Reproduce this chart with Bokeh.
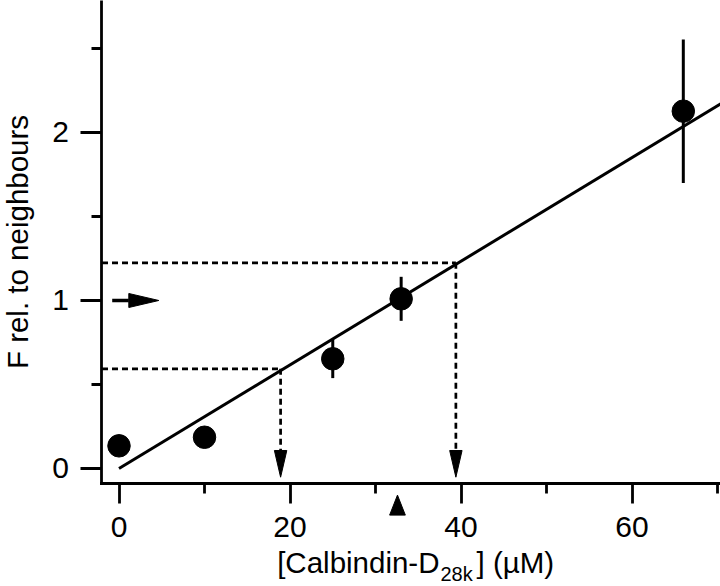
from bokeh.plotting import figure
from bokeh.models import FixedTicker, Range1d, Label
from bokeh.embed import file_html
from bokeh.resources import INLINE

# ---------------- data ----------------
conc = [0, 10, 25, 33, 66]                  # [Calbindin-D28k] (uM)
f_rel = [0.135, 0.186, 0.653, 1.01, 2.127]  # F rel. to neighbours
f_err = [0.03, 0.03, 0.115, 0.131, 0.427]

fit_x = [0, 71]
fit_y = [0.0, 2.19]

guide_conc = [18.9, 39.4]     # read-off concentrations (dashed arrows)
guide_f = [0.593, 1.224]      # corresponding F values on the fit

ref_f = [1.0]                 # horizontal arrow marking F = 1
ref_x = [-0.795, 4.655]       # arrow start / tip (uM)
mark_conc = [32.57]           # arrowhead under the x axis

x_ticks = [0, 20, 40, 60]
x_minor = [10, 30, 50, 70]
y_ticks = [0, 1, 2]
y_minor = [0.5, 1.5, 2.5]

# ---------------- geometry ----------------
W, H = 720, 586
X0, X1 = -13.86, 70.35
Y0, Y1 = -0.7024, 2.7857
PX = W / (X1 - X0)            # pixels per uM
PY = H / (Y1 - Y0)            # pixels per F unit
AX_X = -1.99                  # where the y axis stands (uM)
AX_Y = -0.090                 # where the x axis stands (F)

FONT = "Liberation Sans"

p = figure(width=W, height=H, output_backend="svg", toolbar_location=None,
           x_range=Range1d(X0, X1), y_range=Range1d(Y0, Y1),
           min_border=0, min_border_left=0, min_border_bottom=0,
           min_border_top=0, min_border_right=0)
p.outline_line_color = None
p.grid.visible = False
p.background_fill_color = "white"
p.border_fill_color = "white"

# axes
for ax in (p.xaxis[0], p.yaxis[0]):
    ax.axis_line_width = 2.8
    ax.axis_line_color = "black"
    ax.axis_line_cap = "square"
    ax.major_tick_in = 0
    ax.minor_tick_in = 0
    ax.major_tick_line_width = 2.8
    ax.minor_tick_line_width = 2.8
    ax.major_tick_line_color = "black"
    ax.minor_tick_line_color = "black"
    ax.minor_tick_out = 10
    ax.major_label_text_font = FONT
    ax.major_label_text_font_size = "30px"
    ax.major_label_text_color = "black"
    ax.axis_label_text_font = FONT
    ax.axis_label_text_font_size = "29.5px"
    ax.axis_label_text_font_style = "normal"
    ax.axis_label_text_color = "black"

p.xaxis.ticker = FixedTicker(ticks=x_ticks, minor_ticks=x_minor)
p.yaxis.ticker = FixedTicker(ticks=y_ticks, minor_ticks=y_minor)
p.xaxis.fixed_location = AX_Y
p.yaxis.fixed_location = AX_X
p.xaxis.bounds = (AX_X, X1)
p.yaxis.bounds = (AX_Y, Y1)
p.xaxis.major_tick_out = 20
p.yaxis.major_tick_out = 21
p.xaxis.major_label_standoff = 13
p.yaxis.major_label_standoff = 12
p.yaxis.axis_label = "F rel. to neighbours"
p.yaxis.axis_label_standoff = 15

# fit line
p.line(fit_x, fit_y, line_color="black", line_width=3)

# dashed read-off guides with downward arrowheads
DOWN_TIP = -0.0518
DOWN_LEN = 26.7 / PY
DOWN_HW = 6.2 / PX
gx, gy = [], []
for c, f in zip(guide_conc, guide_f):
    gx.append([AX_X, c]); gy.append([f, f])
    gx.append([c, c]); gy.append([f, DOWN_TIP + DOWN_LEN])
p.multi_line(gx, gy, line_color="black", line_width=2.7, line_dash="6 4")
p.patches([[c - DOWN_HW, c, c + DOWN_HW] for c in guide_conc],
          [[DOWN_TIP + DOWN_LEN, DOWN_TIP, DOWN_TIP + DOWN_LEN] for _ in guide_conc],
          fill_color="black", line_color="black", line_width=1)

# horizontal arrow at F = 1
R_LEN = 30 / PX
R_HW = 7 / PY
for f in ref_f:
    p.line([ref_x[0], ref_x[1] - R_LEN], [f, f], line_color="black", line_width=3.5)
    p.patch([ref_x[1] - R_LEN, ref_x[1], ref_x[1] - R_LEN],
            [f + R_HW, f, f - R_HW], fill_color="black", line_color="black",
            line_width=1)

# arrowhead under the x axis
UP_TIP = AX_Y - 11.5 / PY
UP_LEN = 20 / PY
UP_HW = 7.85 / PX
p.patches([[c - UP_HW, c, c + UP_HW] for c in mark_conc],
          [[UP_TIP - UP_LEN, UP_TIP, UP_TIP - UP_LEN] for _ in mark_conc],
          fill_color="black", line_color="black", line_width=1)

# error bars + points
p.segment(x0=conc, y0=[v - e for v, e in zip(f_rel, f_err)],
          x1=conc, y1=[v + e for v, e in zip(f_rel, f_err)],
          line_color="black", line_width=3)
p.scatter(conc, f_rel, size=22.5, fill_color="black", line_color="black",
          line_width=1)

# x axis label with subscript (placed in pixel terms below the axis)
def sx(px):
    return X0 + px / PX

def sy(py):
    return Y1 - py / PY

p.add_layout(Label(x=sx(439), y=sy(562), text="[Calbindin-D", text_align="right",
                   text_baseline="alphabetic", text_font=FONT,
                   text_font_size="29.5px", text_color="black"))
p.add_layout(Label(x=sx(440), y=sy(573), text="28k", text_align="left",
                   text_baseline="alphabetic", text_font=FONT,
                   text_font_size="20px", text_color="black"))
p.add_layout(Label(x=sx(476), y=sy(562), text="] (\u00b5M)", text_align="left",
                   text_baseline="alphabetic", text_font=FONT,
                   text_font_size="29.5px", text_color="black"))

open("out.html", "w").write(file_html(p, INLINE))
